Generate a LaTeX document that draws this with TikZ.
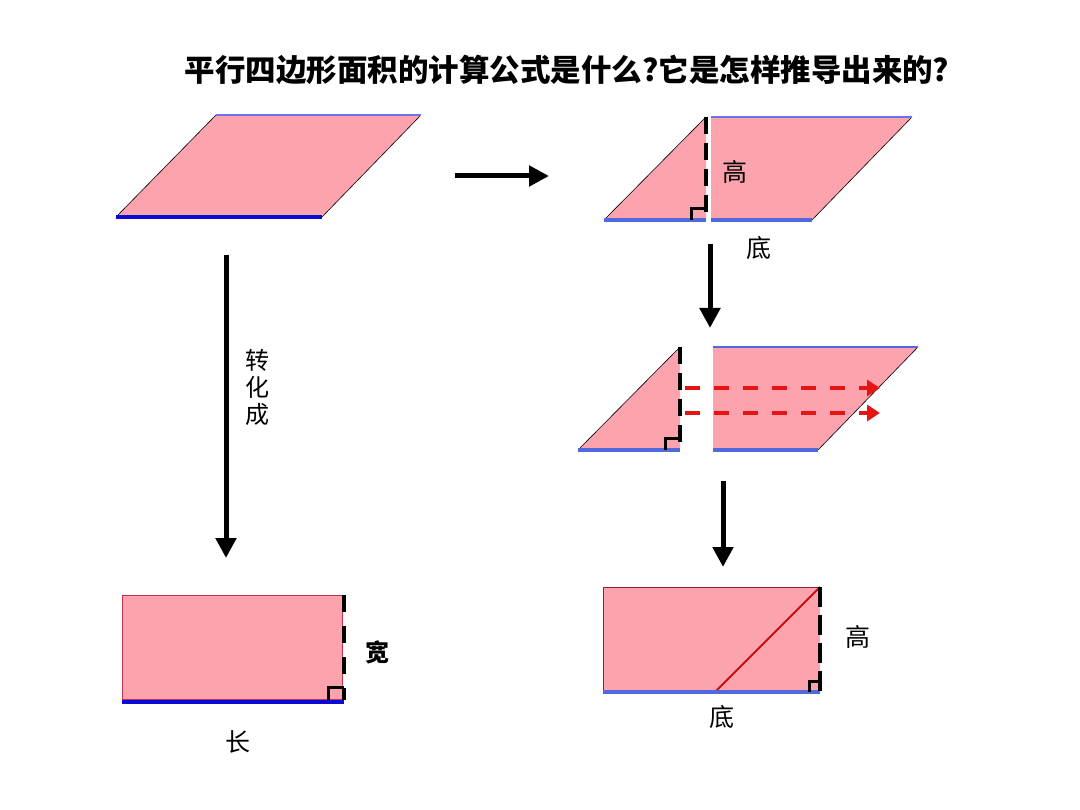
\documentclass[tikz,border=0pt]{standalone}
\usepackage{fontspec}
\setmainfont{Noto Sans CJK SC}
\usetikzlibrary{arrows.meta}
\definecolor{pinkfill}{RGB}{252,163,173}
\definecolor{darkblue}{RGB}{10,10,215}
\definecolor{midblue}{RGB}{80,105,220}
\definecolor{liteblue}{RGB}{110,115,235}
\definecolor{rededge}{RGB}{200,50,70}
\definecolor{dashred}{RGB}{230,20,20}
\tikzset{
  pinkshape/.style={fill=pinkfill},
  slant/.style={black, line width=0.6pt},
  bigarrow/.style={line width=5pt, -{Triangle[length=20pt,width=20pt]}},
  blackdash/.style={black, line width=4pt, dash pattern=on 17pt off 9pt},
  reddash/.style={dashred, line width=4pt, dash pattern=on 15pt off 14pt, -{Triangle[length=13pt,width=16pt]}},
  rightangle/.style={black, line width=3pt},
  lbl/.style={font=\fontsize{25pt}{25pt}\selectfont, inner sep=0pt},
  boldlbl/.style={font=\fontsize{24pt}{24pt}\selectfont\bfseries, inner sep=0pt},
  vlbl/.style={font=\fontsize{24pt}{24pt}\selectfont, inner sep=0pt},
}
\begin{document}
\begin{tikzpicture}[x=1pt,y=-1pt]
\useasboundingbox (0,0) rectangle (1080,810);
\fill[white] (0,0) rectangle (1080,810);

% title
\node[font=\fontsize{30.5pt}{31pt}\selectfont\bfseries, inner sep=0pt] (title) at (567,70) {平行四边形面积的计算公式是什么?它是怎样推导出来的?};

% top-left parallelogram
\fill[pinkshape] (116,217) -- (322,217) -- (421,115) -- (216,115) -- cycle;
\draw[slant] (116,217) -- (216,115);
\draw[slant] (322,217) -- (421,115);
\draw[liteblue, line width=2pt] (216,115) -- (421,115);
\draw[darkblue, line width=4.5pt] (116,217) -- (322,217);

% right arrow
\coordinate (ra1) at (455,176);
\coordinate (ra2) at (549,176);
\draw[bigarrow] (ra1) -- (ra2);

% top-right: split parallelogram
\fill[pinkshape] (604,220) -- (706,117) -- (706,220) -- cycle;
\draw[slant] (604,220) -- (706,117);
\fill[pinkshape] (711,117) -- (912,117) -- (812,220) -- (711,220) -- cycle;
\draw[slant] (812,220) -- (912,117);
\draw[liteblue, line width=1.2pt] (711,117) -- (912,117);
\draw[midblue, line width=4pt] (604,220) -- (706,220);
\draw[midblue, line width=4pt] (711,220) -- (812,220);
\draw[blackdash] (706,117) -- (706,220);
\draw[rightangle] (691,220) -- (691,209) -- (706,209);
\node[lbl] (h1) at (735,172) {高};
\node[lbl] (b1) at (759,248) {底};

% down arrow 1
\coordinate (da1) at (710,244);
\coordinate (da2) at (710,328);
\draw[bigarrow] (da1) -- (da2);

% middle: separated pieces
\fill[pinkshape] (578,450) -- (680,347) -- (680,450) -- cycle;
\draw[slant] (578,450) -- (680,347);
\fill[pinkshape] (713,347) -- (918,347) -- (818,450) -- (713,450) -- cycle;
\draw[slant] (818,450) -- (918,347);
\draw[midblue, line width=1.2pt] (713,347) -- (918,347);
\draw[midblue, line width=4pt] (578,450) -- (680,450);
\draw[midblue, line width=4pt] (713,450) -- (818,450);
\draw[blackdash] (680,347) -- (680,450);
\draw[rightangle] (665,450) -- (665,439) -- (680,439);
\coordinate (r1a) at (685,388);
\coordinate (r1b) at (880,388);
\coordinate (r2a) at (685,413);
\coordinate (r2b) at (880,413);
\draw[reddash] (r1a) -- (r1b);
\draw[reddash] (r2a) -- (r2b);

% down arrow 2
\coordinate (db1) at (723,481);
\coordinate (db2) at (723,567);
\draw[bigarrow] (db1) -- (db2);

% bottom-right rectangle
\fill[pinkshape] (603,587) rectangle (820,692);
\draw[rededge!70!black, line width=0.8pt] (603,692) -- (603,587) -- (820,587);
\draw[dashred!85!black, line width=2pt] (715,692) -- (820,587);
\draw[midblue, line width=4pt] (603,692) -- (820,692);
\draw[blackdash, dash pattern=on 20pt off 8pt] (820,587) -- (820,692);
\draw[rightangle] (809,692) -- (809,681) -- (820,681);
\node[lbl] (h2) at (858,637) {高};
\node[lbl] (b2) at (722,717) {底};

% left down arrow
\coordinate (la1) at (226,255);
\coordinate (la2) at (226,558);
\draw[bigarrow] (la1) -- (la2);
\node[vlbl, align=center] (zhc) at (257,387) {转\\[3pt]化\\[3pt]成};

% bottom-left rectangle
\fill[pinkshape] (122,595) rectangle (342,699);
\draw[rededge, line width=1pt] (122,595) rectangle (342,699);
\draw[darkblue, line width=4pt] (122,702) -- (344,702);
\draw[black, line width=4pt, dash pattern=on 17pt off 14pt] (344,595) -- (344,700);
\draw[rightangle] (328,700) -- (328,687) -- (344,687);
\node[boldlbl] (kuan) at (377,652) {宽};
\node[lbl] (chang) at (238,742) {长};
\end{tikzpicture}
\end{document}
